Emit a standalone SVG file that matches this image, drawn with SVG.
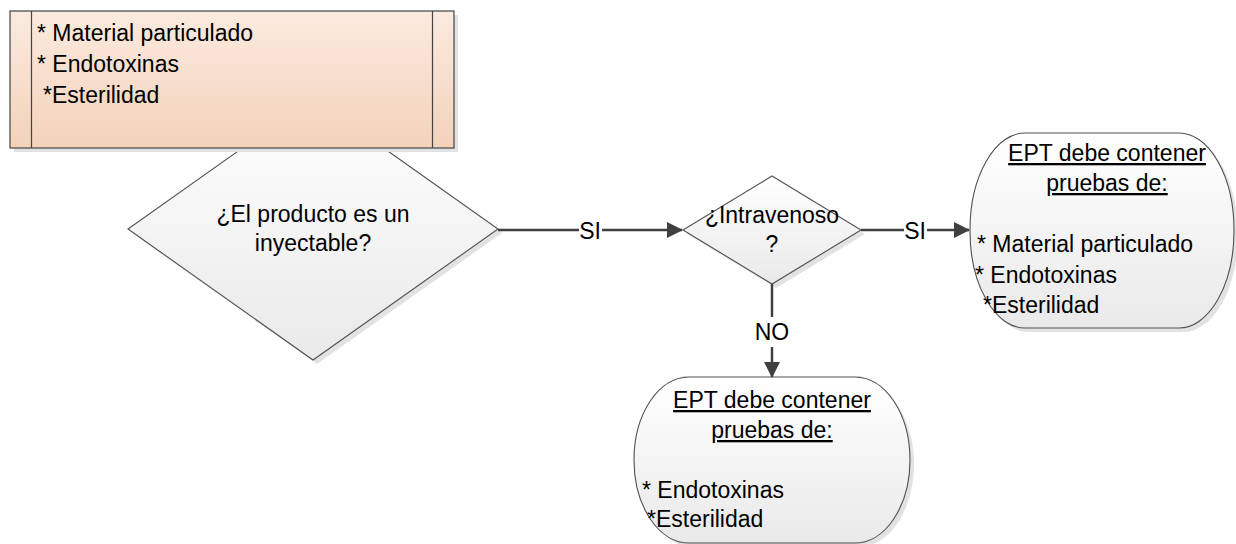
<svg xmlns="http://www.w3.org/2000/svg" width="1236" height="544" viewBox="0 0 1236 544">
<defs>
<linearGradient id="gGray" x1="0" y1="0" x2="0" y2="1">
<stop offset="0" stop-color="#ffffff"/>
<stop offset="1" stop-color="#e9e9e9"/>
</linearGradient>
<linearGradient id="gPeach" x1="0" y1="0" x2="0" y2="1">
<stop offset="0" stop-color="#fbeadf"/>
<stop offset="1" stop-color="#f3d2ba"/>
</linearGradient>
<marker id="arr" viewBox="0 0 16 16" refX="15" refY="8" markerWidth="16" markerHeight="16" markerUnits="userSpaceOnUse" orient="auto">
<path d="M0,0 L16,8 L0,16 Z" fill="#404040"/>
</marker>
</defs>
<style>
text{font-family:"Liberation Sans",Arial,sans-serif;font-size:23px;fill:#000}
.c{text-anchor:middle}
.u{text-decoration:underline}
.shape{stroke:#505050;stroke-width:1.1;fill:url(#gGray)}
.shadow{fill:#e2e2e2;stroke:none}
.conn{stroke:#404040;stroke-width:2.5;fill:none}
</style>
<rect width="1236" height="544" fill="#ffffff"/>

<g id="decision1">
<polygon class="shadow" points="317,102 502,233 317,364 132,233"/>
<polygon class="shape" points="313,98 498,229 313,360 128,229"/>
<text class="c" x="313" y="222">¿El producto es un</text>
<text class="c" x="313" y="251">inyectable?</text>
</g>

<g id="box-tests">
<rect class="shadow" x="14" y="15" width="444" height="137"/>
<rect x="10" y="11" width="444" height="137" fill="url(#gPeach)" stroke="#444444" stroke-width="1.2"/>
<line x1="31.5" y1="11" x2="31.5" y2="148" stroke="#444444" stroke-width="1.2"/>
<line x1="432.5" y1="11" x2="432.5" y2="148" stroke="#444444" stroke-width="1.2"/>
<text x="37" y="41">* Material particulado</text>
<text x="37" y="72">* Endotoxinas</text>
<text x="43" y="103">*Esterilidad</text>
</g>

<g id="decision2">
<polygon class="shadow" points="776,180 865,234 776,288 687,234"/>
<polygon class="shape" points="772,176 861,230 772,284 683,230"/>
<text class="c" x="772" y="223">¿Intravenoso</text>
<text class="c" x="772" y="252">?</text>
</g>

<g id="result-iv">
<rect class="shadow" x="974" y="137" width="264" height="195" rx="55" ry="97"/>
<rect class="shape" x="970" y="133" width="264" height="195" rx="55" ry="97"/>
<text class="c u" x="1107" y="161">EPT debe contener</text>
<text class="c u" x="1107" y="191">pruebas de:</text>
<text x="977" y="252">* Material particulado</text>
<text x="975" y="283">* Endotoxinas</text>
<text x="983" y="313">*Esterilidad</text>
</g>

<g id="result-noiv">
<rect class="shadow" x="638" y="381" width="276" height="166" rx="55" ry="83"/>
<rect class="shape" x="634" y="377" width="276" height="166" rx="55" ry="83"/>
<text class="c u" x="772" y="408">EPT debe contener</text>
<text class="c u" x="772" y="438">pruebas de:</text>
<text x="642" y="498">* Endotoxinas</text>
<text x="647" y="527">*Esterilidad</text>
</g>

<g id="connectors">
<line class="conn" x1="498" y1="230" x2="579" y2="230"/>
<line class="conn" x1="602" y1="230" x2="682" y2="230" marker-end="url(#arr)"/>
<text class="c" x="590" y="239">SI</text>
<line class="conn" x1="861" y1="230" x2="904" y2="230"/>
<line class="conn" x1="927" y1="230" x2="969" y2="230" marker-end="url(#arr)"/>
<text class="c" x="915" y="239">SI</text>
<line class="conn" x1="772" y1="284" x2="772" y2="317"/>
<line class="conn" x1="772" y1="347" x2="772" y2="377" marker-end="url(#arr)"/>
<text class="c" x="772" y="340">NO</text>
</g>
</svg>
